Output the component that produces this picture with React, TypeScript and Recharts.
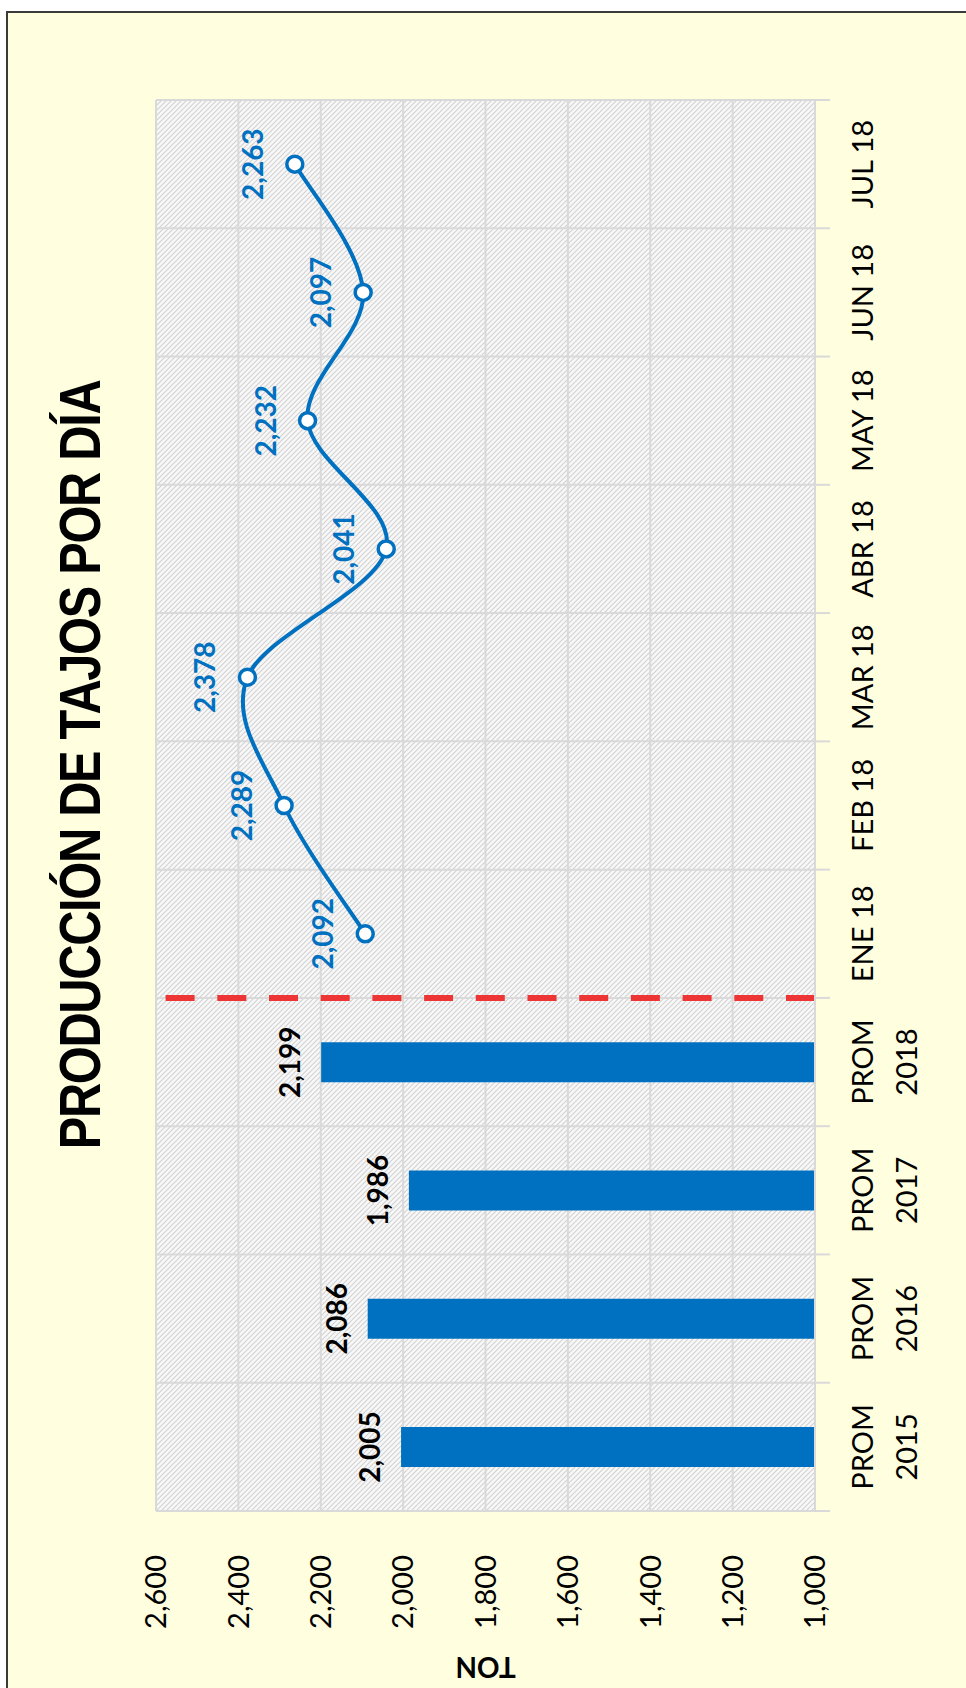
import React from "react";
import {
  ComposedChart,
  Bar,
  Line,
  XAxis,
  YAxis,
  CartesianGrid,
  ReferenceLine,
  LabelList,
} from "recharts";

// categories (PROM years + months of 2018)
const categories = [
  "PROM\n2015",
  "PROM\n2016",
  "PROM\n2017",
  "PROM\n2018",
  "ENE 18",
  "FEB 18",
  "MAR 18",
  "ABR 18",
  "MAY 18",
  "JUN 18",
  "JUL 18",
];
const yearAverages = [2005, 2086, 1986, 2199, null, null, null, null, null, null, null];
const monthly = [null, null, null, null, 2092, 2289, 2378, 2041, 2232, 2097, 2263];
const valueTicks = [1000, 1200, 1400, 1600, 1800, 2000, 2200, 2400, 2600];

const data = categories.map((cat, i) => ({
  cat,
  prom: yearAverages[i],
  mes: monthly[i],
}));

// chart is drawn landscape, then turned 90deg to the left
const W = 1700;
const H = 959;
const PLOT_W = 1411;
const BAND = PLOT_W / categories.length;
const BLUE = "#0070C0";
const GRID = "#d9d9d9";

const fmt = (v: any) => (v == null ? "" : Number(v).toLocaleString("en-US"));

// excel-like smoothed line (catmull-rom as bezier)
const excelSmooth = (context: any) => {
  let pts: number[][] = [];
  return {
    areaStart() {},
    areaEnd() {},
    lineStart() {
      pts = [];
    },
    point(x: number, y: number) {
      pts.push([+x, +y]);
    },
    lineEnd() {
      if (!pts.length) return;
      context.moveTo(pts[0][0], pts[0][1]);
      for (let i = 0; i < pts.length - 1; i++) {
        const p0 = pts[i - 1] || pts[i];
        const p1 = pts[i];
        const p2 = pts[i + 1];
        const p3 = pts[i + 2] || p2;
        context.bezierCurveTo(
          p1[0] + (p2[0] - p0[0]) / 6,
          p1[1] + (p2[1] - p0[1]) / 6,
          p2[0] - (p3[0] - p1[0]) / 6,
          p2[1] - (p3[1] - p1[1]) / 6,
          p2[0],
          p2[1],
        );
      }
    },
  };
};

const CategoryTick = (props: any) => {
  const { x, y, payload, index } = props;
  const lines = String(payload.value).split("\n");
  const half = BAND / 2;
  return (
    <g>
      <line x1={x - half} x2={x - half} y1={y} y2={y + 15} stroke={GRID} strokeWidth={2} />
      {index === categories.length - 1 && (
        <line x1={x + half} x2={x + half} y1={y} y2={y + 15} stroke={GRID} strokeWidth={2} />
      )}
      <text x={x} y={y + 58} textAnchor='middle' fontFamily='Lato' fontSize={29} fill='#000'>
        {lines.map((l, i) => (
          <tspan key={i} x={x} dy={i === 0 ? 0 : 44}>
            {l}
          </tspan>
        ))}
      </text>
    </g>
  );
};

const TonLabel = (props: any) => {
  const vb = props.viewBox || { x: 0, y: 149, height: 659 };
  const cx = vb.x + 43;
  const cy = vb.y + vb.height / 2;
  return (
    <text
      x={cx}
      y={cy}
      transform={`rotate(-90, ${cx}, ${cy})`}
      textAnchor='middle'
      fontFamily='Lato'
      fontWeight='bold'
      fontSize={28}
      fill='#000'>
      TON
    </text>
  );
};

export default function App() {
  return (
    <div
      style={{
        position: "absolute",
        left: 0,
        top: 0,
        width: 966,
        height: 1688,
        overflow: "hidden",
        background: "#fff",
      }}>
      <div
        style={{
          position: "absolute",
          left: 6,
          top: 11,
          width: 1000,
          height: 1720,
          boxSizing: "border-box",
          border: "2px solid #3a3a3a",
          background: "#FFFFE0",
        }}
      />
      <div
        style={{
          position: "absolute",
          left: 7,
          top: 0,
          width: W,
          height: H,
          transformOrigin: "0 0",
          transform: `translate(0px, ${W}px) rotate(-90deg)`,
        }}>
        <ComposedChart
          width={W}
          height={H}
          data={data}
          margin={{ top: 149, right: 100, bottom: 51, left: 0 }}>
          <defs>
            <pattern id='hatch' patternUnits='userSpaceOnUse' width='5' height='5'>
              <rect width='5' height='5' fill='#f8f8f8' />
              <path d='M0,0 L5,5 M-1,4 L1,6 M4,-1 L6,1' stroke='#d2d2d2' strokeWidth='1.1' />
            </pattern>
          </defs>
          <CartesianGrid
            fill='url(#hatch)'
            fillOpacity={1}
            stroke={GRID}
            strokeWidth={2}
            verticalCoordinatesGenerator={({ offset }: any) =>
              categories
                .concat([""])
                .map((_, i) => offset.left + (i * offset.width) / categories.length)
            }
          />
          <XAxis
            dataKey='cat'
            height={100}
            interval={0}
            tickSize={0}
            tickMargin={0}
            tickLine={false}
            axisLine={{ stroke: GRID, strokeWidth: 2 }}
            tick={<CategoryTick />}
          />
          <YAxis
            type='number'
            domain={[1000, 2600]}
            ticks={valueTicks}
            allowDataOverflow
            width={189}
            axisLine={false}
            tickLine={false}
            tickSize={0}
            tickMargin={44}
            tick={{ fontFamily: "Lato", fontSize: 29, fill: "#000" }}
            tickFormatter={fmt}
            label={<TonLabel />}
          />
          <ReferenceLine
            x={categories[3]}
            position='end'
            stroke='#EE3535'
            strokeWidth={6}
            strokeDasharray='29 22.7'
          />
          <Bar dataKey='prom' fill={BLUE} barSize={40} isAnimationActive={false}>
            <LabelList
              dataKey='prom'
              position='top'
              offset={21}
              formatter={fmt}
              fill='#000'
              fontFamily='Lato'
              fontWeight='bold'
              fontSize={28}
            />
          </Bar>
          <Line
            dataKey='mes'
            type={excelSmooth as any}
            stroke={BLUE}
            strokeWidth={4}
            dot={{ r: 8, fill: "#fff", stroke: BLUE, strokeWidth: 3.5 }}
            activeDot={false}
            isAnimationActive={false}>
            <LabelList
              dataKey='mes'
              position='top'
              offset={32}
              formatter={fmt}
              fill={BLUE}
              fontFamily='Lato'
              fontWeight='bold'
              fontSize={28}
            />
          </Line>
        </ComposedChart>
        <div
          style={{
            position: "absolute",
            left: 935 - 600,
            width: 1200,
            top: 45,
            textAlign: "center",
            fontFamily: "'Liberation Sans', Arial, sans-serif",
            fontWeight: "bold",
            fontSize: 57,
            lineHeight: "57px",
            letterSpacing: -1.5,
            color: "#000",
            whiteSpace: "nowrap",
            transform: "scaleX(0.855)",
            transformOrigin: "600px 0",
          }}>
          PRODUCCIÓN DE TAJOS POR DÍA
        </div>
      </div>
    </div>
  );
}
